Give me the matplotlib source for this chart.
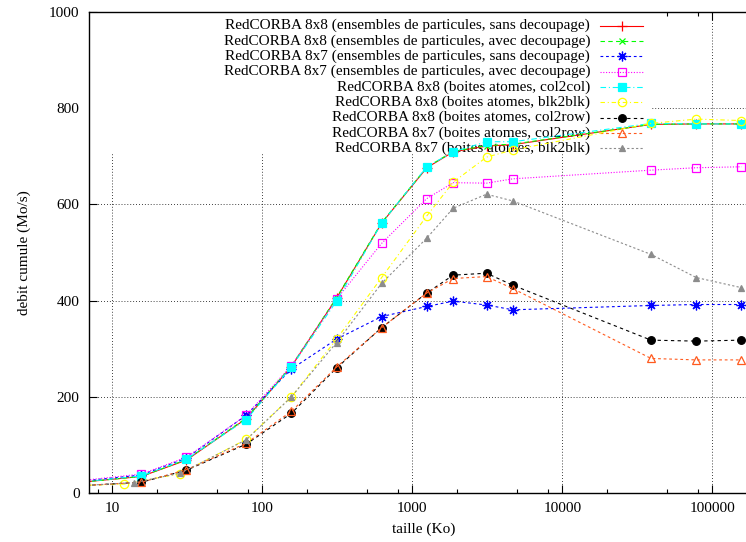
import matplotlib
matplotlib.use("Agg")
import matplotlib.pyplot as plt
from matplotlib.lines import Line2D
from matplotlib.patches import Rectangle
from matplotlib.ticker import FixedLocator, LogLocator, NullFormatter

# --- Data ---
# message sizes (Ko); first value lies left of the visible range
x_sizes = [1.5625, 15.625, 31.25, 78.125, 156.25, 312.5, 625, 1250, 1875, 3125, 4687.5, 39062.5, 78125, 156250]
x_blk_88 = [1.2, 12, 28.5, 78.125, 156.25, 312.5, 625, 1250, 1875, 3125, 4687.5, 39062.5, 78125, 156250]
x_blk_87 = [1.4, 14, 28.5, 78.125, 156.25, 312.5, 625, 1250, 1875, 3125, 4687.5, 39062.5, 78125, 156250]

ens_88_sans = [5, 35, 69, 155, 263, 405, 561, 676, 709, 721, 724, 766, 767, 767]
ens_88_avec = [5, 35, 70, 156, 264, 406, 562, 677, 710, 722, 725, 766, 767, 767]
ens_87_sans = [6, 38, 73, 162, 258, 320, 367, 388, 399, 391, 381, 390, 392, 392]
ens_87_avec = [6, 40, 75, 162, 265, 403, 519, 612, 645, 644, 653, 671, 676, 678]
box_88_col2col = [5, 36, 71, 153, 262, 399, 561, 678, 709, 730, 730, 768, 767, 767]
box_88_blk2blk = [10, 19, 41, 112, 200, 320, 448, 576, 646, 698, 713, 768, 777, 774]
box_88_col2row = [5, 23, 48, 102, 166, 260, 344, 416, 453, 457, 432, 318, 316, 318]
box_87_col2row = [5, 23, 49, 104, 170, 262, 344, 416, 446, 450, 425, 280, 277, 277]
box_87_blk2blk = [5, 22, 42, 111, 200, 313, 436, 530, 592, 621, 607, 496, 448, 427]

labels = [
    "RedCORBA 8x8 (ensembles de particules, sans decoupage)",
    "RedCORBA 8x8 (ensembles de particules, avec decoupage)",
    "RedCORBA 8x7 (ensembles de particules, sans decoupage)",
    "RedCORBA 8x7 (ensembles de particules, avec decoupage)",
    "RedCORBA 8x8 (boites atomes, col2col)",
    "RedCORBA 8x8 (boites atomes, blk2blk)",
    "RedCORBA 8x8 (boites atomes, col2row)",
    "RedCORBA 8x7 (boites atomes, col2row)",
    "RedCORBA 8x7 (boites atomes, blk2blk)",
]

x_ticks = [10, 100, 1000, 10000, 100000]
x_tick_labels = ["10", "100", "1000", "10000", "100000"]
y_ticks = [0, 200, 400, 600, 800, 1000]

# --- Styles (gnuplot-like) ---
series = [
    (x_sizes, ens_88_sans, dict(color="#ff0000", ls="-", marker="+", ms=7, mfc="none")),
    (x_sizes, ens_88_avec, dict(color="#00ff00", ls=(0, (4, 3)), marker="x", ms=5, mfc="none")),
    (x_sizes, ens_87_sans, dict(color="#0000ff", ls=(0, (2.5, 2.5)), marker=(8, 2, 0), ms=7, mfc="none")),
    (x_sizes, ens_87_avec, dict(color="#ff00ff", ls=(0, (1, 1.5)), marker="s", ms=5.5, mfc="none")),
    (x_sizes, box_88_col2col, dict(color="#00ffff", ls=(0, (5, 2.5, 1, 2.5)), marker="s", ms=5.5)),
    (x_blk_88, box_88_blk2blk, dict(color="#ffff00", ls=(0, (4, 2.5, 1, 2.5)), marker="o", ms=6, mfc="none")),
    (x_sizes, box_88_col2row, dict(color="#000000", ls=(0, (3, 3)), marker="o", ms=5.5)),
    (x_sizes, box_87_col2row, dict(color="#ff5a1e", ls=(0, (2.5, 2.5)), marker="^", ms=5.5, mfc="none")),
    (x_blk_87, box_87_blk2blk, dict(color="#8c8c8c", ls=(0, (2, 2)), marker="^", ms=5)),
]

FS = 11
plt.rcParams["font.family"] = ["Liberation Serif", "DejaVu Serif"]
plt.rcParams["font.size"] = FS

W, H = 746, 542
# plot area in pixels (right border lies outside the picture)
PX_L, PX_R, PX_T, PX_B = 89.3, 758.7, 11.7, 493.3


def ax_x(px):
    return (px - PX_L) / (PX_R - PX_L)


def ax_y(py):
    return (PX_B - py) / (PX_B - PX_T)


def draw_key(ax):
    """gnuplot style key: right-justified text, sample to the right."""
    x_text = ax_x(590)
    x0, x1, xm = ax_x(600), ax_x(643), ax_x(621.7)
    for i, (lab, (_, _, st)) in enumerate(zip(labels, series)):
        yy = ax_y(25.7 + 15.3 * i)
        t = ax.text(x_text, yy, lab, transform=ax.transAxes, ha="right", va="center", fontsize=FS)
        t.set_zorder(1)
        line_kw = dict(color=st["color"], ls=st["ls"], lw=0.8)
        ax.add_line(Line2D([x0, x1], [yy, yy], transform=ax.transAxes, zorder=1, **line_kw))
        mk = dict(color=st["color"], marker=st["marker"], ms=st["ms"], ls="none",
                  mfc=st.get("mfc", st["color"]), mew=0.9)
        ax.add_line(Line2D([xm], [yy], transform=ax.transAxes, zorder=1, **mk))


fig = plt.figure(figsize=(W / 100, H / 100), dpi=100)
ax = fig.add_axes([PX_L / W, (H - PX_B) / H, (PX_R - PX_L) / W, (PX_B - PX_T) / H])

for xs, ys, st in series:
    ax.plot(xs, ys, lw=0.8, mew=0.9, zorder=2, **st)

ax.set_xscale("log")
ax.set_xlim(7.03, 10 ** (5 + (PX_R - 712.3) / 150.0))
ax.set_ylim(0, 1000)

ax.xaxis.set_major_locator(FixedLocator(x_ticks))
ax.set_xticklabels(x_tick_labels)
ax.xaxis.set_minor_locator(LogLocator(base=10, subs=[2, 5, 8]))
ax.xaxis.set_minor_formatter(NullFormatter())
ax.set_yticks(y_ticks)

ax.tick_params(which="both", direction="in", top=True, right=True, width=0.8, labelsize=FS)
ax.tick_params(which="major", length=6)
ax.tick_params(which="minor", length=3)
ax.tick_params(axis="x", pad=6)
ax.tick_params(axis="y", pad=7)

for sp in ax.spines.values():
    sp.set_linewidth(1.0)

ax.set_axisbelow(True)
ax.grid(True, which="major", ls=(0, (1, 2.5)), color="black", lw=0.6)
# key area hides the grid, not the curves
ax.add_patch(Rectangle((0, ax_y(154)), ax_x(651), 1 - ax_y(154), transform=ax.transAxes,
                       facecolor="white", edgecolor="none", zorder=0.8))

ax.set_xlabel("taille (Ko)", fontsize=FS, labelpad=6)
ax.set_ylabel("debit cumule (Mo/s)", fontsize=FS, labelpad=13)

draw_key(ax)

fig.savefig("out.png", dpi=100)
